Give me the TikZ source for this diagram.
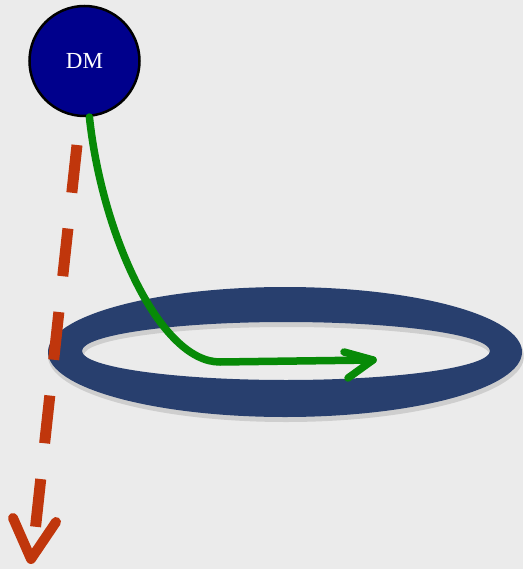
\documentclass[tikz,border=0pt]{standalone}
\usepackage{fontspec}
\newfontfamily\dmfont{Liberation Serif}
\definecolor{bg}{HTML}{EBEBEB}
\definecolor{ringblue}{HTML}{283F6E}
\definecolor{dmblue}{HTML}{00008C}
\definecolor{arrgreen}{HTML}{078A07}
\definecolor{arrred}{HTML}{C0360C}
\tikzset{
  dmnode/.style={circle, draw=black, line width=2.5pt, fill=dmblue, minimum size=110pt, inner sep=0pt, text=white, font=\dmfont\fontsize{23}{23}\selectfont},
  greenline/.style={draw=arrgreen, line width=7.5pt, line cap=round, line join=round},
  redline/.style={draw=arrred, line width=11pt},
  redhead/.style={draw=arrred, line width=10pt, line cap=round, line join=round},
}
\begin{document}
\begin{tikzpicture}[x=1pt,y=-1pt]
\fill[bg] (0,0) rectangle (523,569);
\useasboundingbox (0,0) rectangle (523,569);
% ring shadow
\fill[black, opacity=0.12, even odd rule] (286,356) ellipse [x radius=238, y radius=66] (287,355) ellipse [x radius=203, y radius=28];
% ring
\fill[ringblue, even odd rule] (285,352) ellipse [x radius=237, y radius=65] (286,351) ellipse [x radius=204, y radius=29];
% DM node
\node[dmnode] (dm) at (84.5,61) {DM};
% coordinates
\coordinate (gbend) at (220,362);
\coordinate (gend) at (373,360);
\coordinate (rstart) at (77,145);
\coordinate (rend) at (35,532);
\coordinate (rtip) at (31,559);
% green arrow
\draw[greenline] (dm.275) .. controls (102,235) and (160,362) .. (gbend) -- (gend);
\draw[greenline] (344,352) -- (gend) -- (348,378);
% red dashed arrow
\draw[redline, dash pattern=on 48pt off 36pt] (rstart) -- (rend);
\draw[redhead] (13,518) -- (rtip) -- (56,522);
\end{tikzpicture}
\end{document}
